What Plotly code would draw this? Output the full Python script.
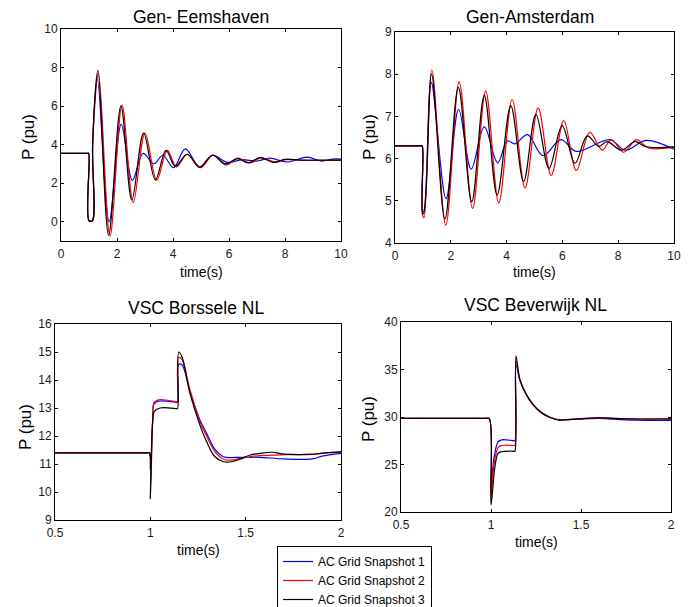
import plotly.graph_objects as go

# page body has an 8px margin: the figure is sized/positioned to land on the 699x607 window
OFF = 8
W, H = 699 - OFF, 607 - OFF

SERIES_NAMES = ["AC Grid Snapshot 1", "AC Grid Snapshot 2", "AC Grid Snapshot 3"]
COLORS = ["#0000ff", "#ff0000", "#000000"]

# ---------------- Gen- Eemshaven ----------------
eem_t1 = [0, 0.96, 0.99, 1.0, 1.12, 1.13, 1.30, 1.72, 2.15, 2.55, 2.93, 3.32, 3.64, 4.02, 4.44, 4.95, 5.4, 5.95, 6.45, 7.0, 7.45, 8.1, 8.8, 9.3, 9.7, 10]
eem_p1 = [3.55, 3.55, 3.55, 0.05, 0.05, 4.0, 7.4, 0.0, 5.05, 2.15, 3.55, 3.0, 3.45, 2.8, 3.78, 2.85, 3.45, 3.08, 3.22, 3.15, 3.3, 3.1, 3.35, 3.15, 3.25, 3.25]
eem_t2 = [0, 0.96, 0.99, 1.0, 1.12, 1.13, 1.34, 1.75, 2.18, 2.58, 3.0, 3.42, 3.8, 4.12, 4.52, 4.98, 5.43, 5.9, 6.32, 6.75, 7.15, 7.65, 8.05, 8.6, 10]
eem_p2 = [3.55, 3.55, 3.55, 0.05, 0.05, 4.0, 7.7, -0.75, 6.05, 1.0, 4.6, 2.15, 3.7, 2.85, 3.5, 2.8, 3.45, 2.95, 3.3, 3.05, 3.32, 3.1, 3.22, 3.18, 3.2]
eem_t3 = [0, 0.96, 0.99, 1.0, 1.12, 1.13, 1.32, 1.70, 2.14, 2.53, 2.95, 3.37, 3.75, 4.08, 4.5, 4.95, 5.41, 5.87, 6.3, 6.69, 7.1, 7.59, 8.0, 8.6, 10]
eem_p3 = [3.55, 3.55, 3.55, 0.05, 0.05, 4.0, 7.85, -0.7, 6.0, 1.13, 4.6, 2.17, 3.7, 2.88, 3.5, 2.82, 3.45, 3.0, 3.27, 3.05, 3.33, 3.08, 3.24, 3.2, 3.2]

# ---------------- Gen-Amsterdam ----------------
ams_t1 = [0, 0.95, 0.98, 0.99, 1.03, 1.3, 1.83, 2.28, 2.73, 3.2, 3.68, 4.03, 4.3, 4.75, 5.3, 5.95, 6.5, 7.7, 8.25, 9.0, 10]
ams_p1 = [6.3, 6.3, 6.3, 4.75, 4.75, 7.8, 5.05, 7.17, 5.75, 6.75, 5.9, 6.42, 6.35, 6.57, 6.07, 6.45, 6.17, 6.45, 6.2, 6.43, 6.22]
ams_t2 = [0, 0.95, 0.98, 0.99, 1.04, 1.32, 1.82, 2.3, 2.78, 3.25, 3.72, 4.2, 4.66, 5.13, 5.6, 6.05, 6.5, 6.98, 7.43, 7.75, 8.2, 8.65, 9.1, 10]
ams_p2 = [6.3, 6.3, 6.3, 4.65, 4.6, 8.1, 4.42, 7.82, 4.82, 7.6, 4.95, 7.4, 5.3, 7.2, 5.6, 6.9, 5.72, 6.62, 6.2, 6.45, 6.15, 6.45, 6.25, 6.27]
ams_t3 = [0, 0.95, 0.98, 0.99, 1.03, 1.31, 1.79, 2.27, 2.75, 3.2, 3.66, 4.15, 4.61, 5.05, 5.52, 5.99, 6.45, 6.89, 7.3, 7.6, 8.12, 8.6, 9.0, 10]
ams_p3 = [6.3, 6.3, 6.3, 4.7, 4.7, 8.0, 4.57, 7.69, 4.98, 7.5, 5.14, 7.25, 5.46, 7.05, 5.77, 6.78, 5.89, 6.54, 6.29, 6.4, 6.2, 6.4, 6.28, 6.28]

# ---------------- VSC Borssele NL ----------------
bor_t1 = [0.5, 0.98, 0.995, 1.0, 1.012, 1.02, 1.05, 1.138, 1.143, 1.148, 1.165, 1.208, 1.26, 1.295, 1.339, 1.383, 1.427, 1.47, 1.523, 1.575, 1.7, 1.85, 1.9, 2.0]
bor_p1 = [11.4, 11.4, 11.4, 10.8, 12.5, 13.15, 13.25, 13.2, 13.2, 14.55, 14.55, 13.6, 12.57, 12.1, 11.52, 11.26, 11.23, 11.24, 11.24, 11.24, 11.18, 11.18, 11.28, 11.38]
bor_t2 = [0.5, 0.98, 0.995, 1.002, 1.012, 1.02, 1.05, 1.138, 1.143, 1.148, 1.165, 1.208, 1.26, 1.295, 1.339, 1.383, 1.427, 1.47, 1.523, 1.575, 1.7, 1.85, 1.9, 2.0]
bor_p2 = [11.4, 11.4, 11.4, 10.3, 12.5, 13.2, 13.3, 13.22, 13.22, 14.8, 14.75, 13.65, 12.51, 12.0, 11.44, 11.17, 11.14, 11.2, 11.26, 11.3, 11.33, 11.34, 11.38, 11.43]
bor_t3 = [0.5, 0.98, 0.995, 1.0, 1.012, 1.02, 1.05, 1.138, 1.143, 1.149, 1.166, 1.208, 1.26, 1.295, 1.339, 1.383, 1.427, 1.47, 1.523, 1.575, 1.636, 1.706, 1.853, 1.89, 2.0]
bor_p3 = [11.4, 11.4, 11.4, 9.75, 12.5, 12.87, 13.0, 12.98, 12.98, 15.0, 14.83, 13.52, 12.39, 11.8, 11.26, 11.08, 11.08, 11.17, 11.32, 11.38, 11.42, 11.35, 11.35, 11.38, 11.43]

# ---------------- VSC Beverwijk NL ----------------
bev_t1 = [0.5, 0.97, 0.99, 1.0, 1.015, 1.04, 1.06, 1.128, 1.133, 1.139, 1.161, 1.198, 1.235, 1.272, 1.31, 1.346, 1.383, 1.45, 1.6, 1.75, 2.0]
bev_p1 = [29.85, 29.85, 29.85, 22.2, 25.5, 27.4, 27.6, 27.5, 27.5, 35.5, 33.8, 32.3, 31.3, 30.6, 30.15, 29.85, 29.7, 29.75, 29.85, 29.7, 29.65]
bev_t2 = [0.5, 0.97, 0.99, 1.0, 1.015, 1.04, 1.06, 1.128, 1.133, 1.139, 1.161, 1.198, 1.235, 1.272, 1.31, 1.346, 1.383, 1.45, 1.6, 1.75, 2.0]
bev_p2 = [29.85, 29.85, 29.85, 21.6, 24.8, 26.8, 27.0, 27.0, 27.0, 35.9, 33.9, 32.3, 31.3, 30.6, 30.1, 29.85, 29.7, 29.75, 29.9, 29.8, 29.8]
bev_t3 = [0.5, 0.97, 0.99, 1.0, 1.022, 1.04, 1.06, 1.128, 1.133, 1.139, 1.161, 1.198, 1.235, 1.272, 1.31, 1.346, 1.383, 1.45, 1.6, 1.75, 2.0]
bev_p3 = [29.85, 29.85, 29.85, 20.75, 24.8, 26.2, 26.35, 26.4, 26.4, 36.4, 33.9, 32.3, 31.26, 30.56, 30.1, 29.82, 29.68, 29.75, 29.9, 29.8, 29.8]

panels = [
    dict(title="Gen- Eemshaven", data=[(eem_t1, eem_p1), (eem_t2, eem_p2), (eem_t3, eem_p3)]),
    dict(title="Gen-Amsterdam", data=[(ams_t1, ams_p1), (ams_t2, ams_p2), (ams_t3, ams_p3)]),
    dict(title="VSC Borssele NL", data=[(bor_t1, bor_p1), (bor_t2, bor_p2), (bor_t3, bor_p3)]),
    dict(title="VSC Beverwijk NL", data=[(bev_t1, bev_p1), (bev_t2, bev_p2), (bev_t3, bev_p3)]),
]

# axes boxes in window pixels (left, right, top, bottom)
boxes = [(61, 341, 29, 241), (395, 674, 32, 243), (55, 341, 324, 520), (401, 671, 322, 512)]
xranges = [[0, 10], [0, 10], [0.5, 2], [0.5, 2]]
yranges = [[-1, 10], [4, 9], [9, 16], [20, 40]]
xdticks = [2, 2, 0.5, 0.5]
ydticks = [2, 1, 1, 5]
y0ticks = [0, 4, 9, 20]

title_pos = [(201, 17), (530, 17), (196, 308), (535, 305)]
xlab_pos = [(201, 272), (534, 272), (198, 550), (536, 542)]
ylab_pos = [(28, 137), (369, 137), (25, 427), (368, 419)]


def px(x):
    return (x - OFF) / W


def py(y):
    return 1 - (y - OFF) / H


FONT = "Liberation Sans, Arial, sans-serif"

fig = go.Figure()
layout = dict(
    width=W, height=H,
    margin=dict(l=0, r=0, t=0, b=0, autoexpand=False),
    paper_bgcolor="white", plot_bgcolor="white",
    font=dict(family=FONT, color="#000000", size=12),
    showlegend=True,
    legend=dict(x=px(277), y=py(546), xanchor="left", yanchor="top",
                bgcolor="white", bordercolor="black", borderwidth=1,
                font=dict(family=FONT, size=12, color="#000000"),
                tracegroupgap=0),
)
annotations = []

for i, p in enumerate(panels):
    xa = "x" if i == 0 else f"x{i+1}"
    ya = "y" if i == 0 else f"y{i+1}"
    xkey = "xaxis" if i == 0 else f"xaxis{i+1}"
    ykey = "yaxis" if i == 0 else f"yaxis{i+1}"
    l, r, t, b = boxes[i]
    common = dict(showline=True, linecolor="black", linewidth=1, mirror="ticks",
                  ticks="inside", ticklen=3, tickwidth=1, tickcolor="black",
                  showgrid=False, zeroline=False, automargin=False,
                  tickfont=dict(family=FONT, size=12, color="#1a1a1a"))
    layout[xkey] = dict(domain=[px(l), px(r)], range=xranges[i], anchor=ya,
                        tick0=xranges[i][0], dtick=xdticks[i], ticklabelstandoff=2, **common)
    layout[ykey] = dict(domain=[py(b), py(t)], range=yranges[i], anchor=xa,
                        tick0=y0ticks[i], dtick=ydticks[i], **common)
    for k, (tt, pp) in enumerate(p["data"]):
        fig.add_trace(go.Scatter(
            x=tt, y=pp, xaxis=xa, yaxis=ya, mode="lines",
            line=dict(color=COLORS[k], width=1.2, shape="spline", smoothing=1.0),
            name=SERIES_NAMES[k], showlegend=(i == 0), legendgroup=SERIES_NAMES[k],
        ))
    tx, ty = title_pos[i]
    annotations.append(dict(text=p["title"], x=px(tx), y=py(ty), xref="paper", yref="paper",
                            xanchor="center", yanchor="middle", showarrow=False,
                            font=dict(family=FONT, size=17.5, color="#000000")))
    lx, ly = xlab_pos[i]
    annotations.append(dict(text="time(s)", x=px(lx), y=py(ly), xref="paper", yref="paper",
                            xanchor="center", yanchor="middle", showarrow=False,
                            font=dict(family=FONT, size=14, color="#000000")))
    yx, yy = ylab_pos[i]
    annotations.append(dict(text="P (pu)", x=px(yx), y=py(yy), xref="paper", yref="paper",
                            xanchor="center", yanchor="middle", showarrow=False, textangle=-90,
                            font=dict(family=FONT, size=17, color="#000000")))

layout["annotations"] = annotations
fig.update_layout(**layout)
fig.write_html("out.html")
